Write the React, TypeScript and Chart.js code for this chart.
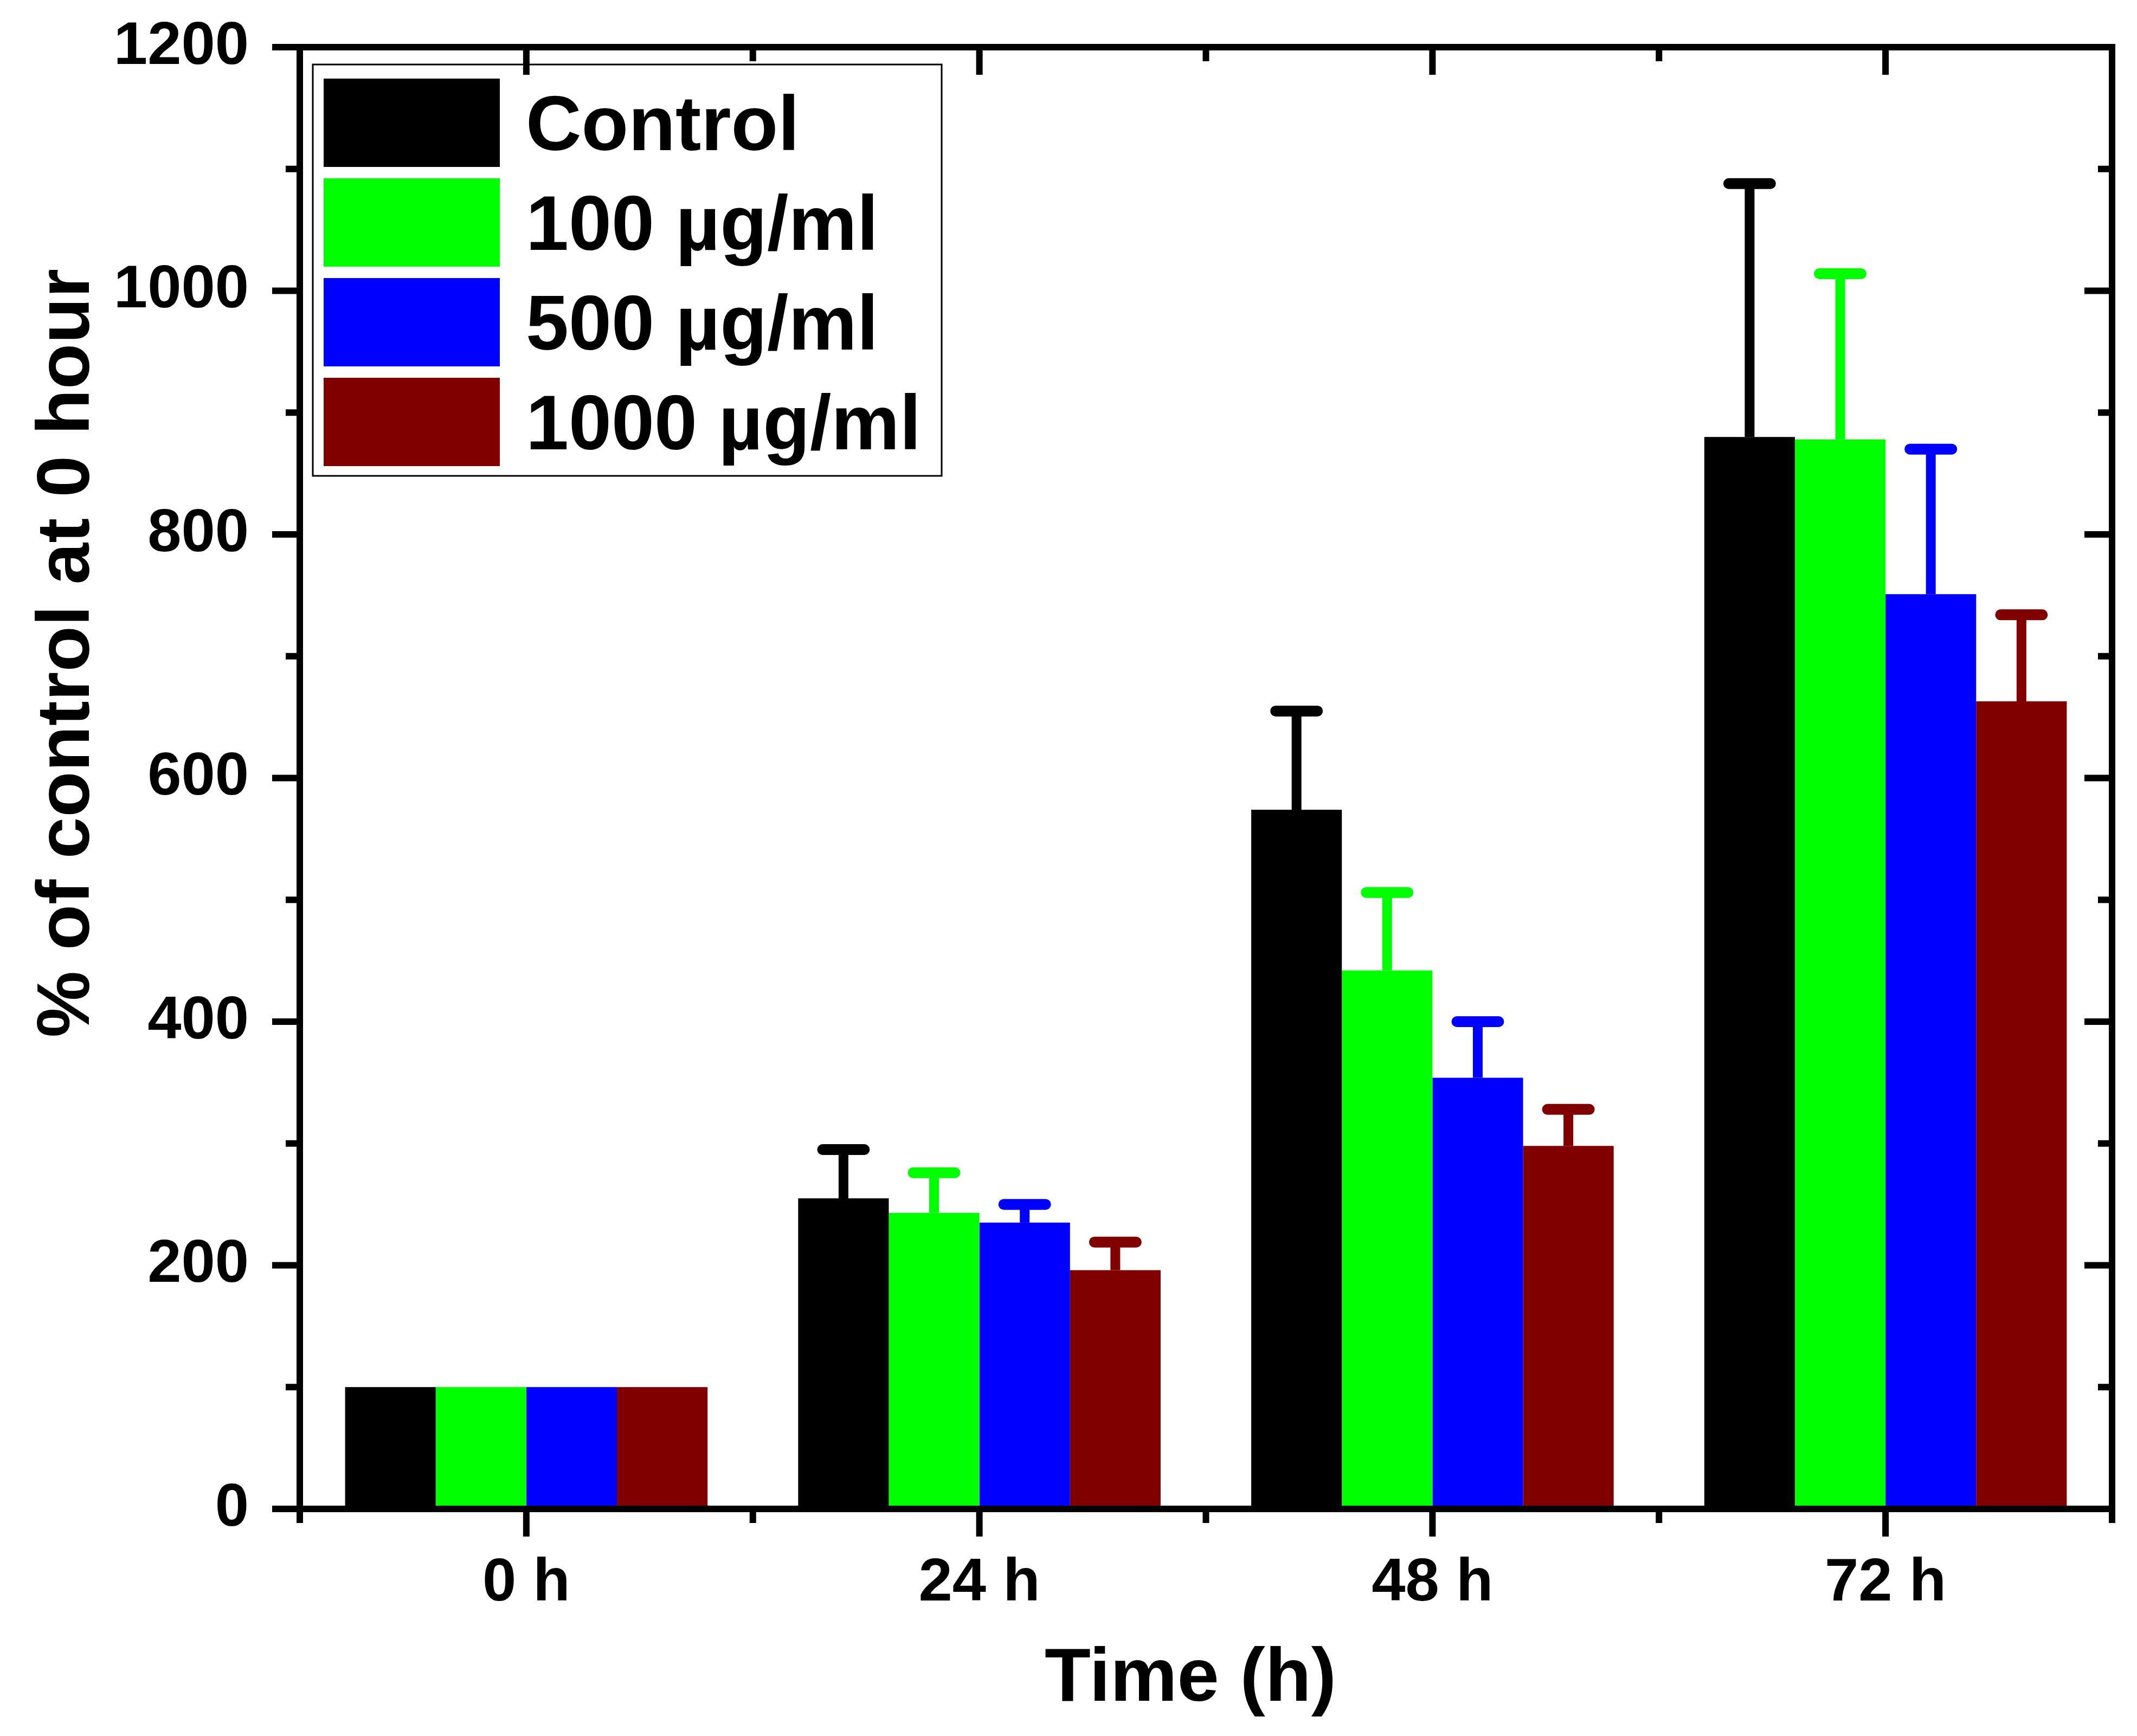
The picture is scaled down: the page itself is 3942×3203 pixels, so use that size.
import { useEffect, useRef } from 'react';
import Chart from 'chart.js/auto';

// 図のデータ
const categories = ['0 h', '24 h', '48 h', '72 h'];
const seriesLabels = ['Control', '100 µg/ml', '500 µg/ml', '1000 µg/ml'];
const seriesColors = ['#000000', '#00ff00', '#0000ff', '#800000'];

const controlValues = [100, 255, 574, 880];
const controlErrors = [0, 40, 81, 208];
const dose100Values = [100, 243, 442, 878];
const dose100Errors = [0, 33, 64, 136];
const dose500Values = [100, 235, 354, 751];
const dose500Errors = [0, 15, 46, 119];
const dose1000Values = [100, 196, 298, 663];
const dose1000Errors = [0, 23, 30, 71];

const yMin = 0;
const yMax = 1200;
const yMajorStep = 200;
const yMinorStep = 100;

const xTitle = 'Time (h)';
const yTitle = '% of control at 0 hour';

const W = 3942;
const H = 3203;
const FONT = "'Liberation Sans', Arial, Helvetica, sans-serif";

const seriesValues = [controlValues, dose100Values, dose500Values, dose1000Values];
const seriesErrors = [controlErrors, dose100Errors, dose500Errors, dose1000Errors];

// エラーバー (上側のみ)
const errorBarPlugin = {
  id: 'errorBars',
  afterDatasetsDraw(chart: any) {
    const { ctx } = chart;
    const yScale = chart.scales.y;
    chart.data.datasets.forEach((ds: any, di: number) => {
      const meta = chart.getDatasetMeta(di);
      meta.data.forEach((bar: any, i: number) => {
        const err = ds.errors[i];
        if (!err) return;
        const { x, y, width } = bar.getProps(['x', 'y', 'width'], true);
        const yEnd = yScale.getPixelForValue(ds.data[i] + err);
        ctx.save();
        ctx.strokeStyle = ds.backgroundColor;
        ctx.lineWidth = 18;
        ctx.lineCap = 'butt';
        ctx.beginPath();
        ctx.moveTo(x, y);
        ctx.lineTo(x, yEnd);
        ctx.stroke();
        ctx.lineWidth = 20;
        ctx.lineCap = 'round';
        const half = (width * 0.58) / 2 - 10;
        ctx.beginPath();
        ctx.moveTo(x - half, yEnd);
        ctx.lineTo(x + half, yEnd);
        ctx.stroke();
        ctx.restore();
      });
    });
  },
};

// 枠・目盛り・軸タイトル・凡例
const framePlugin = {
  id: 'frame',
  afterDraw(chart: any) {
    const { ctx, chartArea } = chart;
    const { left, right, top, bottom } = chartArea;
    const xScale = chart.scales.x;
    const yScale = chart.scales.y;

    const line = (x1: number, y1: number, x2: number, y2: number) => {
      ctx.beginPath();
      ctx.moveTo(x1, y1);
      ctx.lineTo(x2, y2);
      ctx.stroke();
    };

    ctx.save();
    ctx.strokeStyle = '#000';
    ctx.lineWidth = 12;
    ctx.strokeRect(left, top, right - left, bottom - top);

    const major = 51;
    const minor = 26;
    for (let v = yMin; v <= yMax; v += yMinorStep) {
      const py = yScale.getPixelForValue(v);
      const len = v % yMajorStep === 0 ? major : minor;
      line(left, py, left - len, py);
      line(right, py, right - len, py);
    }

    const n = categories.length;
    const half = (xScale.getPixelForValue(1) - xScale.getPixelForValue(0)) / 2;
    for (let i = 0; i < n; i++) {
      const px = xScale.getPixelForValue(i);
      line(px, bottom, px, bottom + major);
      line(px, top, px, top + major);
    }
    for (let i = 0; i <= n; i++) {
      const bx = i < n ? xScale.getPixelForValue(i) - half : xScale.getPixelForValue(n - 1) + half;
      line(bx, bottom, bx, bottom + minor);
      line(bx, top, bx, top + minor);
    }

    // 軸タイトル
    ctx.fillStyle = '#000';
    ctx.font = `bold 139px ${FONT}`;
    ctx.textAlign = 'center';
    ctx.textBaseline = 'alphabetic';
    ctx.fillText(xTitle, 2196, 3138);

    ctx.save();
    ctx.translate(164, 1205);
    ctx.rotate(-Math.PI / 2);
    ctx.font = `bold 138px ${FONT}`;
    ctx.fillText(yTitle, 0, 0);
    ctx.restore();

    // 凡例
    const boxL = left + 24;
    const boxT = top + 32;
    ctx.lineWidth = 3;
    ctx.strokeRect(boxL, boxT, 1160, 759);
    ctx.font = `bold 142px ${FONT}`;
    ctx.textAlign = 'left';
    chart.data.datasets.forEach((ds: any, i: number) => {
      const rowT = top + 58 + i * 184;
      ctx.fillStyle = ds.backgroundColor;
      ctx.fillRect(left + 44, rowT, 325, 163);
      ctx.fillStyle = '#000';
      ctx.fillText(ds.label, left + 417, rowT + 132);
    });
    ctx.restore();
  },
};

export default function App() {
  const canvasRef = useRef<HTMLCanvasElement>(null);
  const chartRef = useRef<Chart | null>(null);

  useEffect(() => {
    if (!canvasRef.current) return;
    if (chartRef.current) chartRef.current.destroy();

    const tickFont = { family: FONT, size: 112, weight: 'bold' as const };

    chartRef.current = new Chart(canvasRef.current, {
      type: 'bar',
      data: {
        labels: categories,
        datasets: seriesLabels.map((label, i) => ({
          label,
          data: seriesValues[i],
          errors: seriesErrors[i],
          backgroundColor: seriesColors[i],
          borderWidth: 0,
          categoryPercentage: 0.8,
          barPercentage: 1.0,
        })) as any,
      },
      options: {
        animation: false,
        responsive: false,
        devicePixelRatio: 1,
        layout: { padding: { top: 87, right: 46, left: 0, bottom: 0 } },
        plugins: {
          legend: { display: false },
          tooltip: { enabled: false },
        },
        scales: {
          x: {
            type: 'category',
            offset: true,
            grid: { display: false, drawTicks: false, offset: true },
            border: { display: false },
            ticks: { color: '#000', font: tickFont, padding: 71 },
            afterFit: (s: any) => {
              s.height = 419;
              s.paddingLeft = 0;
              s.paddingRight = 0;
            },
          },
          y: {
            min: yMin,
            max: yMax,
            grid: { display: false, drawTicks: false },
            border: { display: false },
            ticks: {
              stepSize: yMajorStep,
              color: '#000',
              font: tickFont,
              padding: 94,
              callback: (v: any) => String(v),
            },
            afterFit: (s: any) => {
              s.width = 553;
              s.paddingTop = 0;
              s.paddingBottom = 0;
            },
          },
        },
      },
      plugins: [errorBarPlugin, framePlugin],
    });

    return () => {
      if (chartRef.current) {
        chartRef.current.destroy();
        chartRef.current = null;
      }
    };
  }, []);

  return (
    <div style={{ position: 'absolute', left: 0, top: 0, width: W, height: H, background: '#fff' }}>
      <canvas ref={canvasRef} width={W} height={H} style={{ display: 'block', width: W, height: H }} />
    </div>
  );
}
